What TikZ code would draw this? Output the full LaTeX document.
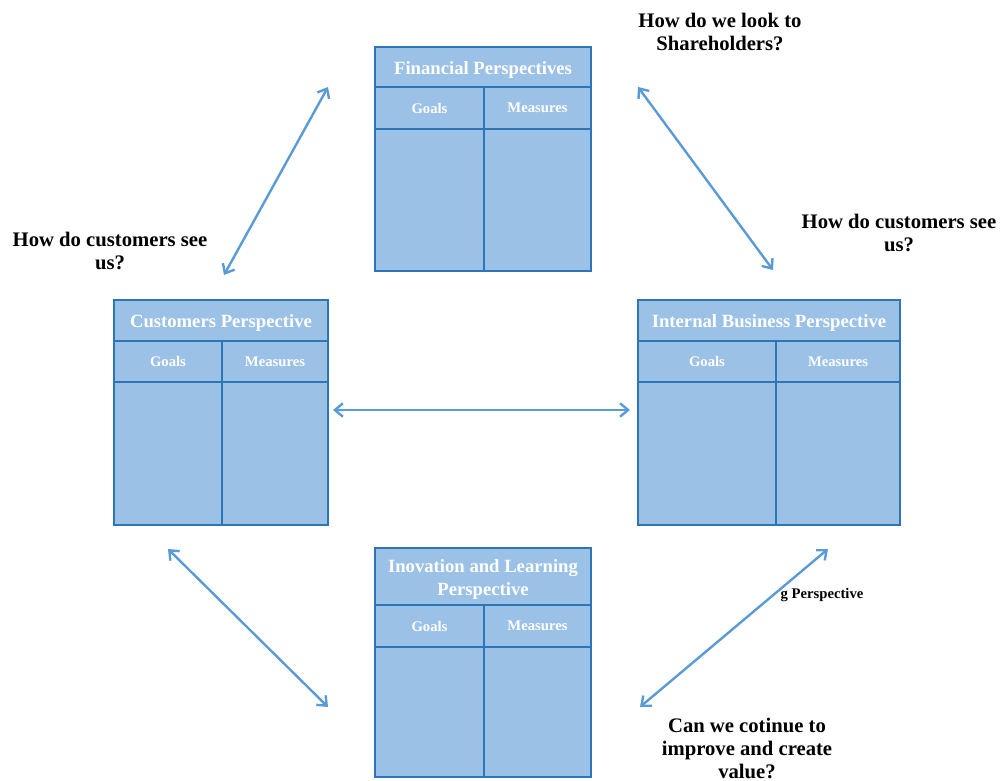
\documentclass[tikz,border=0pt]{standalone}
\usepackage{fontspec}
\setmainfont{Liberation Serif}
\usetikzlibrary{fit,arrows.meta}
\definecolor{boxfill}{RGB}{155,194,230}
\definecolor{boxline}{RGB}{46,117,182}
\definecolor{arrowblue}{RGB}{91,155,213}
\tikzset{
  cell/.style={draw=boxline, fill=boxfill, line width=1.6pt, inner sep=0pt},
  titletext/.style={text=white, align=center, yshift=-2.2pt, font=\bfseries\fontsize{14}{17}\selectfont},
  headtext/.style={text=white, font=\bfseries\fontsize{11}{12}\selectfont},
  link/.style={<->, draw=arrowblue, line width=1.8pt},
  question/.style={align=center, font=\bfseries\fontsize{15.5}{17.25}\selectfont}
}
\begin{document}
\begin{tikzpicture}[x=0.75pt, y=-0.75pt, >={Straight Barb[length=6pt,width=10pt]}]
	\useasboundingbox (0,0) rectangle (1000,781);
	% financial
	\node[cell, fit={(375,47) (591,87)}, label={[titletext]center:Financial Perspectives}] (fintitle) {};
	\node[cell, fit={(375,87) (484,129)}, label={[headtext]center:Goals}] (fingoals) {};
	\node[cell, fit={(484,87) (591,129)}, label={[headtext]center:Measures}] (finmeas) {};
	\node[cell, fit={(375,129) (484,271)}] (finleft) {};
	\node[cell, fit={(484,129) (591,271)}] (finright) {};
	% customers
	\node[cell, fit={(114,300) (328,341)}, label={[titletext]center:Customers Perspective}] (custitle) {};
	\node[cell, fit={(114,341) (222,382)}, label={[headtext]center:Goals}] (cusgoals) {};
	\node[cell, fit={(222,341) (328,382)}, label={[headtext]center:Measures}] (cusmeas) {};
	\node[cell, fit={(114,382) (222,525)}] (cusleft) {};
	\node[cell, fit={(222,382) (328,525)}] (cusright) {};
	% internal business
	\node[cell, fit={(638,300) (900,341)}, label={[titletext]center:Internal Business Perspective}] (inttitle) {};
	\node[cell, fit={(638,341) (776,382)}, label={[headtext]center:Goals}] (intgoals) {};
	\node[cell, fit={(776,341) (900,382)}, label={[headtext]center:Measures}] (intmeas) {};
	\node[cell, fit={(638,382) (776,525)}] (intleft) {};
	\node[cell, fit={(776,382) (900,525)}] (intright) {};
	% innovation and learning
	\node[cell, fit={(375,548) (591,605)}, label={[titletext]center:Inovation and Learning\\Perspective}] (invtitle) {};
	\node[cell, fit={(375,605) (484,647)}, label={[headtext]center:Goals}] (invgoals) {};
	\node[cell, fit={(484,605) (591,647)}, label={[headtext]center:Measures}] (invmeas) {};
	\node[cell, fit={(375,647) (484,777)}] (invleft) {};
	\node[cell, fit={(484,647) (591,777)}] (invright) {};
	% questions
	\node[question] (qshare) at (720,32) {How do we look to\\Shareholders?};
	\node[question] (qcusleft) at (110,251) {How do customers see\\us?};
	\node[question] (qcusright) at (899,233) {How do customers see\\us?};
	\node[question] (qvalue) at (747,748) {Can we cotinue to\\improve and create\\value?};
	\node[font=\bfseries\fontsize{11}{13}\selectfont] (stray) at (822,595) {g Perspective};
	% arrow ends
	\coordinate (a1) at (328,87);  \coordinate (a2) at (224,275);
	\coordinate (b1) at (638,87);  \coordinate (b2) at (773,270);
	\coordinate (c1) at (333,410); \coordinate (c2) at (630,410);
	\coordinate (d1) at (168,549); \coordinate (d2) at (328,707);
	\coordinate (e1) at (828,549); \coordinate (e2) at (640,707);
	\draw[link] (a1)--(a2);
	\draw[link] (b1)--(b2);
	\draw[link] (c1)--(c2);
	\draw[link] (d1)--(d2);
	\draw[link] (e1)--(e2);
\end{tikzpicture}
\end{document}
